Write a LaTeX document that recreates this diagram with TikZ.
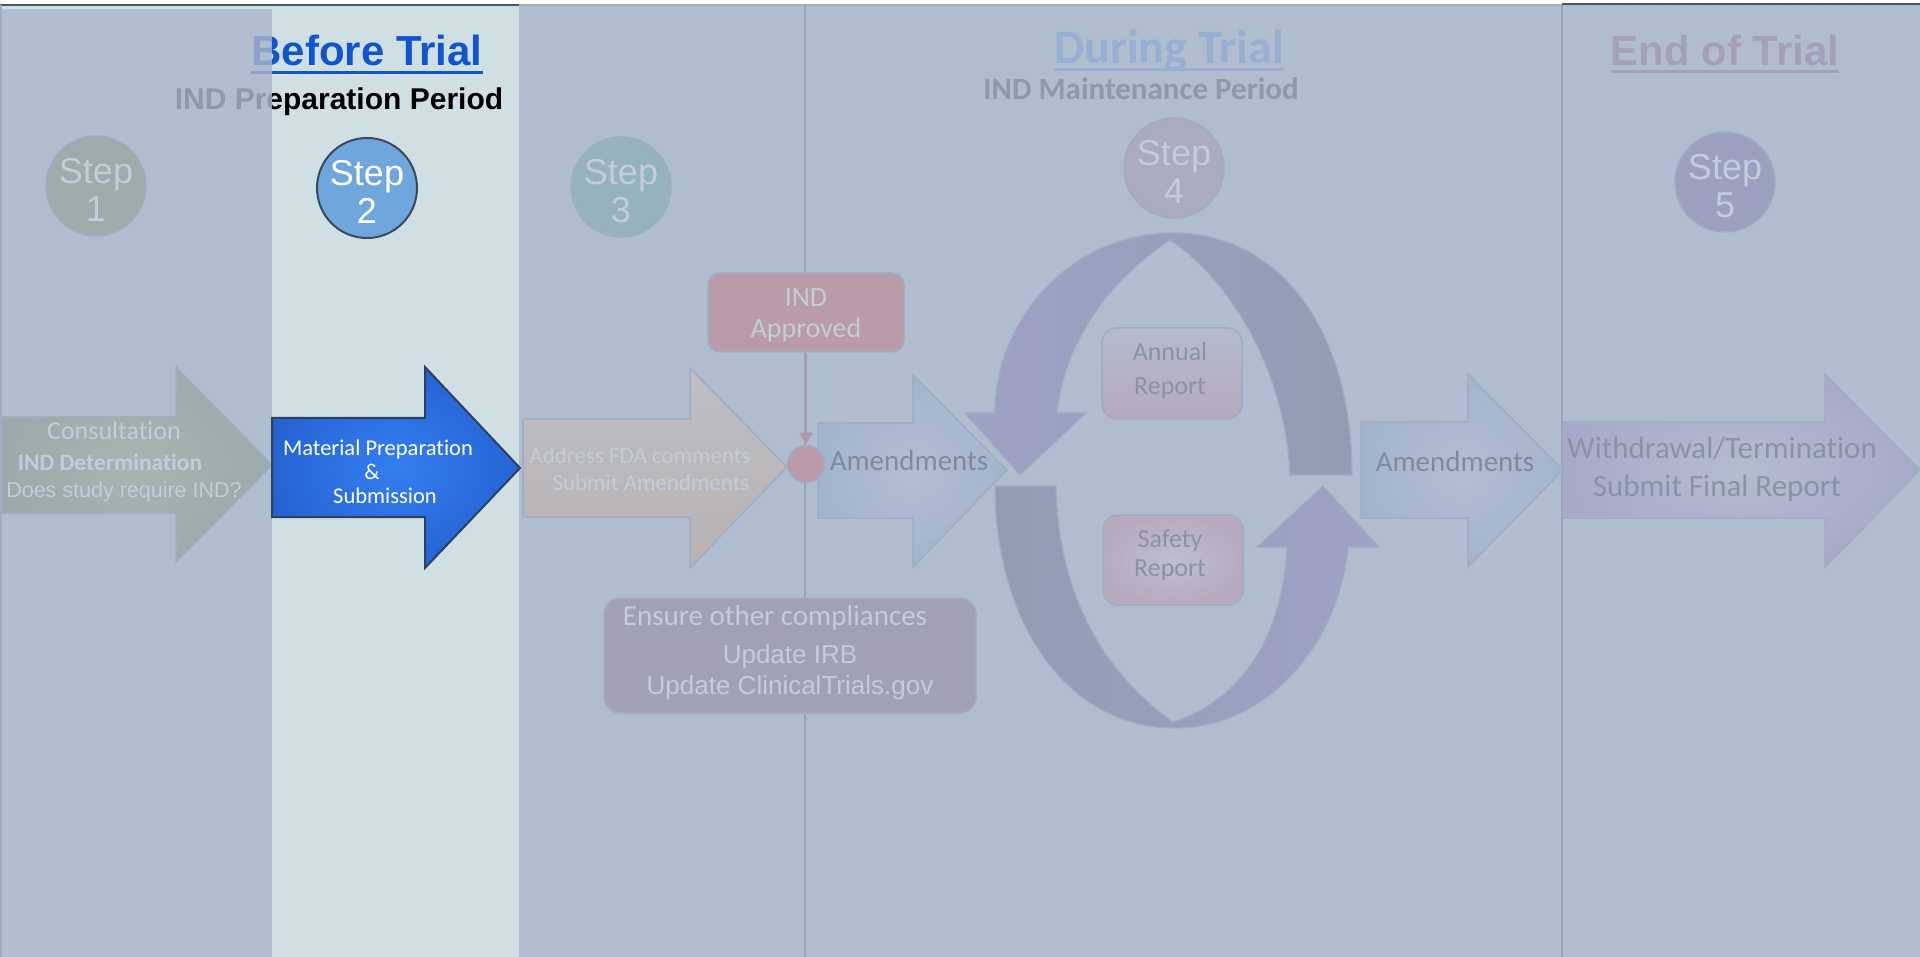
\documentclass[tikz,border=0pt]{standalone}
\usepackage{fontspec}
\newfontfamily\calib[Ligatures=NoCommon]{Carlito}
\newfontfamily\arialf{Liberation Sans}
\usetikzlibrary{arrows.meta}
\newcommand\fcal[1]{\calib\fontsize{#1}{#1}\selectfont}
\newcommand\fari[1]{\arialf\fontsize{#1}{#1}\selectfont}

% page and frame colours
\definecolor{bgcol}{RGB}{176,189,207}
\definecolor{hlcol}{RGB}{208,223,228}
\definecolor{divcol}{RGB}{150,165,185}
\definecolor{edgecol}{RGB}{160,173,193}
\definecolor{topdark}{RGB}{72,86,108}
\definecolor{toplite}{RGB}{165,172,185}
% text colours
\definecolor{litetxt}{RGB}{194,204,220}
\definecolor{darktxt}{RGB}{138,147,164}
\definecolor{amdtxt}{RGB}{128,138,155}
\definecolor{bluefull}{RGB}{17,85,204}
\definecolor{bluefade}{RGB}{140,162,202}
\definecolor{subfade}{RGB}{145,152,168}
\definecolor{durfade}{RGB}{150,175,210}
\definecolor{endfade}{RGB}{165,160,185}
% step circles
\definecolor{sone}{RGB}{155,172,170}
\definecolor{stwo}{RGB}{111,166,220}
\definecolor{stwoedge}{RGB}{60,72,92}
\definecolor{sthree}{RGB}{150,178,190}
\definecolor{sfour}{RGB}{170,170,192}
\definecolor{sfive}{RGB}{155,160,190}
% block arrows
\definecolor{aonein}{RGB}{165,181,178}
\definecolor{aoneout}{RGB}{153,171,170}
\definecolor{a2in}{RGB}{52,126,240}
\definecolor{a2mid}{RGB}{36,96,208}
\definecolor{a2out}{RGB}{22,62,155}
\definecolor{a2edge}{RGB}{45,65,95}
\definecolor{athreetop}{RGB}{190,190,196}
\definecolor{athreebot}{RGB}{184,178,178}
\definecolor{amdin}{RGB}{178,190,210}
\definecolor{amdout}{RGB}{162,180,205}
\definecolor{asixin}{RGB}{180,188,208}
\definecolor{asixout}{RGB}{166,170,200}
% boxes and cycle
\definecolor{pinkcol}{RGB}{185,155,170}
\definecolor{pinkline}{RGB}{180,150,170}
\definecolor{complcol}{RGB}{162,160,182}
\definecolor{cyctail}{RGB}{146,156,178}
\definecolor{cychead}{RGB}{158,162,198}
\definecolor{reptop}{RGB}{180,187,206}
\definecolor{repbot}{RGB}{183,168,188}
\definecolor{repin}{RGB}{190,191,207}
\definecolor{repout}{RGB}{184,170,190}

\pgfdeclareradialshading{bluearrow}{\pgfpoint{0bp}{0bp}}{color(0bp)=(a2in); color(28bp)=(a2mid); color(50bp)=(a2out); color(80bp)=(a2out)}

\begin{document}
\begin{tikzpicture}[x=1pt,y=-1pt,
  txt/.style={inner sep=0pt, outer sep=0pt},
  stepc/.style={circle, minimum size=100pt, inner sep=0pt, draw=edgecol, line width=1.5pt},
  steptxt/.style={txt, align=center, text=litetxt, font=\arialf\fontsize{36}{38.5}\selectfont},
  blk/.style={draw=edgecol, line width=1.5pt},
  roundbox/.style={draw=edgecol, line width=1.5pt, inner sep=0pt},
  cyc/.style={draw=edgecol, line width=1.2pt}]

\useasboundingbox (0,0) rectangle (1920,957);

% background, highlighted column, top rule
\fill[white] (0,0) rectangle (1920,957);
\fill[bgcol] (0,5) rectangle (1920,957);
\fill[hlcol] (0,5) rectangle (519,9);
\fill[hlcol] (272,5) rectangle (519,957);
\draw[topdark, line width=1.5pt] (0,5) -- (519,5);
\draw[toplite, line width=1.5pt] (519,5) -- (1562,5);
\draw[topdark, line width=1.5pt] (1562,4) -- (1920,4);
\draw[edgecol, line width=1.5pt] (1,5) -- (1,957);

% period dividers
\draw[divcol, line width=2pt] (805,5) -- (805,957);
\draw[divcol, line width=2pt] (1562,5) -- (1562,957);

% ---- headings ----
\begin{scope}
  \clip (0,0) rectangle (272,140);
  \node[txt, font=\arialf\bfseries\fontsize{42}{42}\selectfont, text=bluefade] (btf) at (367,50) {Before Trial};
  \draw[bluefade, line width=3pt] ([yshift=-7pt]btf.base west) -- ([yshift=-7pt]btf.base east);
  \node[txt, font=\arialf\bfseries\fontsize{30}{30}\selectfont, text=subfade] (ipf) at (339,102) {IND Preparation Period};
\end{scope}
\begin{scope}
  \clip (272,0) rectangle (519,140);
  \node[txt, font=\arialf\bfseries\fontsize{42}{42}\selectfont, text=bluefull] (bt) at (367,50) {Before Trial};
  \draw[bluefull, line width=3pt] ([yshift=-7pt]bt.base west) -- ([yshift=-7pt]bt.base east);
  \node[txt, font=\arialf\bfseries\fontsize{30}{30}\selectfont, text=black] (ip) at (339,102) {IND Preparation Period};
\end{scope}

\node[txt, font=\calib\bfseries\fontsize{48}{48}\selectfont, text=durfade] (dt) at (1169,50.5) {During Trial};
\draw[durfade, line width=3pt] ([yshift=-6pt]dt.base west) -- ([yshift=-6pt]dt.base east);
\node[txt, font=\calib\bfseries\fontsize{31}{31}\selectfont, text=subfade] (imp) at (1141,89) {IND Maintenance Period};

\node[txt, font=\arialf\bfseries\fontsize{42}{42}\selectfont, text=endfade] (et) at (1725,50) {End of Trial};
\draw[endfade, line width=3pt] ([yshift=-6pt]et.base west) -- ([yshift=-6pt]et.base east);

% ---- step circles ----
\node[stepc, fill=sone] (s1) at (96,186) {};
\node[steptxt] (s1t) at ([yshift=-4pt]s1.center) {Step\\1};
\node[stepc, fill=stwo, draw=stwoedge, line width=2pt] (s2) at (367,188) {};
\node[steptxt, text=white] (s2t) at ([yshift=-4pt]s2.center) {Step\\2};
\node[stepc, fill=sthree] (s3) at (621,187) {};
\node[steptxt] (s3t) at ([yshift=-4pt]s3.center) {Step\\3};
\node[stepc, fill=sfour] (s4) at (1174,168) {};
\node[steptxt] (s4t) at ([yshift=-4pt]s4.center) {Step\\4};
\node[stepc, fill=sfive] (s5) at (1725,182) {};
\node[steptxt] (s5t) at ([yshift=-4pt]s5.center) {Step\\5};

% ---- block arrows ----
\shadedraw[blk, inner color=aonein, outer color=aoneout]
  (2,417) -- (176,417) -- (176,367) -- (272,465) -- (176,562) -- (176,513) -- (2,513) -- cycle;
\node[txt, font=\fcal{26}, text=litetxt] (c1) at (114,431) {Consultation};
\node[txt, font=\calib\bfseries\fontsize{23.5}{23.5}\selectfont, text=litetxt] (c2) at (110,462) {IND Determination};
\node[txt, font=\fari{21.5}, text=litetxt] (c3) at (124,492) {Does study require IND?};

\shadedraw[draw=a2edge, line width=2pt, shading=bluearrow]
  (272,418) -- (425,418) -- (425,367) -- (520,468) -- (425,568) -- (425,517) -- (272,517) -- cycle;
\node[txt, font=\fcal{22.5}, text=white] (m1) at (378,450) {Material Preparation};
\node[txt, font=\fcal{22.5}, text=white] (m2) at (372,472) {\&};
\node[txt, font=\fcal{22.5}, text=white] (m3) at (385,496) {Submission};

\shadedraw[blk, top color=athreetop, bottom color=athreebot]
  (523,419) -- (690,419) -- (690,368) -- (787,467) -- (690,568) -- (690,517) -- (523,517) -- cycle;
\node[txt, font=\fcal{23}, text=litetxt] (a3a) at (640,456) {Address FDA comments};
\node[txt, font=\fcal{23}, text=litetxt] (a3b) at (651,483) {Submit Amendments};

\shadedraw[blk, inner color=amdin, outer color=amdout]
  (818,423) -- (913,423) -- (913,375) -- (1007,470) -- (913,567) -- (913,518) -- (818,518) -- cycle;
\node[txt, font=\fcal{29}, text=amdtxt] (am1) at (909,461) {Amendments};

\shadedraw[blk, inner color=amdin, outer color=amdout]
  (1361,422) -- (1468,422) -- (1468,374) -- (1563,470) -- (1468,567) -- (1468,518) -- (1361,518) -- cycle;
\node[txt, font=\fcal{29}, text=amdtxt] (am2) at (1455,462) {Amendments};

\shadedraw[blk, inner color=asixin, outer color=asixout]
  (1563,422) -- (1825,422) -- (1825,374) -- (1920,470) -- (1825,567) -- (1825,518) -- (1563,518) -- cycle;
\node[txt, font=\fcal{31}, text=darktxt] (wd1) at (1722,448) {Withdrawal/Termination};
\node[txt, font=\fcal{31}, text=darktxt] (wd2) at (1717,488) {Submit Final Report};

% ---- approval box and junction ----
\node[roundbox, fill=pinkcol, rounded corners=12pt, minimum width=196pt, minimum height=79pt] (appr) at (806,312.5) {};
\node[txt, font=\fcal{28}, text=litetxt] (appr1) at (806,297.5) {IND};
\node[txt, font=\fcal{28}, text=litetxt] (appr2) at (806,330) {Approved};
\node[circle, minimum size=37pt, inner sep=0pt, fill=pinkcol, draw=edgecol, line width=1.5pt] (junc) at (806,464) {};
\draw[pinkline, line width=2.5pt, -{Triangle[width=13pt,length=12pt]}] (appr) -- (junc);

% ---- compliance box ----
\node[roundbox, fill=complcol, rounded corners=16pt, minimum width=372pt, minimum height=115pt] (compl) at (790,655.5) {};
\node[txt, font=\fcal{29}, text=litetxt] (co1) at (775,617.5) {Ensure other compliances};
\node[txt, font=\fari{26}, text=litetxt] (co2) at (790,656.5) {Update IRB};
\node[txt, font=\fari{26}, text=litetxt] (co3) at (790,687.5) {Update ClinicalTrials.gov};

% ---- maintenance cycle ----
\shadedraw[cyc, left color=cychead, right color=cyctail]
  (1352,475) -- (1290,475)
  .. controls (1285,370) and (1230,280) .. (1170,240)
  .. controls (1110,280) and (1065,340) .. (1057,413)
  -- (1086,413) -- (1020,475) -- (965,413) -- (995,413)
  .. controls (995,320) and (1070,233) .. (1173,233)
  .. controls (1280,233) and (1352,330) .. (1352,475) -- cycle;
\shadedraw[cyc, left color=cyctail, right color=cychead]
  (995,486) -- (1056,486)
  .. controls (1058,590) and (1100,670) .. (1173,722)
  .. controls (1240,700) and (1282,640) .. (1287,547)
  -- (1257,547) -- (1323,486) -- (1379,547) -- (1348,547)
  .. controls (1340,640) and (1270,728) .. (1175,728)
  .. controls (1065,728) and (995,620) .. (995,486) -- cycle;

\node[roundbox, top color=reptop, bottom color=repbot, rounded corners=15pt, minimum width=140pt, minimum height=91pt] (annual) at (1172,373.5) {};
\node[txt, font=\fcal{26}, text=darktxt] (an1) at (1170,351.5) {Annual};
\node[txt, font=\fcal{26}, text=darktxt] (an2) at (1170,388) {Report};

\node[roundbox, inner color=repin, outer color=repout, rounded corners=15pt, minimum width=140pt, minimum height=90pt] (safety) at (1173,560) {};
\node[txt, font=\fcal{26}, text=darktxt] (sf1) at (1170,540.5) {Safety};
\node[txt, font=\fcal{26}, text=darktxt] (sf2) at (1170,570.5) {Report};

\end{tikzpicture}
\end{document}
